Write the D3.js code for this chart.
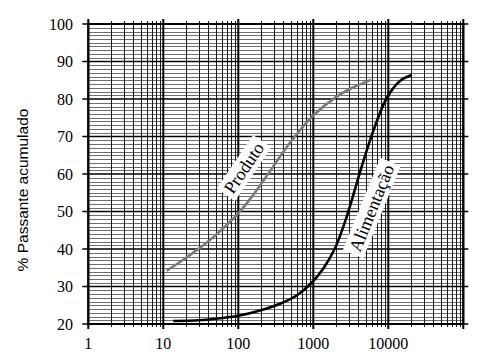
<!DOCTYPE html>
<html><head><meta charset="utf-8">
<script src="https://cdn.jsdelivr.net/npm/d3@7"></script>
<style>
html,body{margin:0;padding:0;background:#fff;}
svg{display:block;}
</style></head>
<body>
<svg id="chart" width="493" height="357"></svg>
<script>
// ---- data ----
const produtoSize = [11.1, 20, 31.6, 50, 100, 158, 240, 316, 500, 1000, 2000, 3160, 5880];
const produtoPass = [34.2, 37.6, 40.5, 43.7, 49.5, 54.4, 59.5, 63, 68.6, 75.6, 80.5, 82.8, 85.1];
const alimSize = [13.6, 30, 50, 100, 195, 360, 600, 953, 1360, 1945, 2790, 3790, 4420, 6310, 9500, 14300, 20500];
const alimPass = [20.8, 21, 21.4, 22.2, 23.6, 25.4, 27.6, 31, 34.8, 40.2, 48.6, 57.5, 62, 71.5, 80.2, 84.8, 86.4];
const xTickValues = [1, 10, 100, 1000, 10000];
const xTickLabels = ["1", "10", "100", "1000", "10000"];
const yTickValues = [20, 30, 40, 50, 60, 70, 80, 90, 100];
const seriesNames = ["Produto", "Alimentação"];
const labelAnchorSize = [119, 6010];
const labelAnchorPass = [61.6, 50.9];
const labelAngles = [-56, -68];
const yTitle = "% Passante acumulado";

// ---- layout ----
const svg = d3.select("#chart");
const L = 88.3, R = 463.3, T = 24, B = 324;
const x = d3.scaleLog().domain([1, 100000]).range([L, R]);
const y = d3.scaleLinear().domain([20, 100]).range([B, T]);
const crisp = v => Math.round(v) + 0.5;

const g = svg.append("g");

// minor horizontal grid (every 1 unit)
const yMinor = d3.range(21, 100).filter(v => v % 10 !== 0);
g.append("g").selectAll("line").data(yMinor).join("line")
  .attr("x1", L).attr("x2", R)
  .attr("y1", d => crisp(y(d))).attr("y2", d => crisp(y(d)))
  .attr("stroke", "#6e6e6e").attr("stroke-width", 1);

// minor vertical grid
const xMinor = [];
for (let e = 0; e < 5; e++) for (let k = 2; k <= 9; k++) xMinor.push(k * Math.pow(10, e));
g.append("g").selectAll("line").data(xMinor).join("line")
  .attr("x1", d => crisp(x(d))).attr("x2", d => crisp(x(d)))
  .attr("y1", T - 3).attr("y2", B + 3)
  .attr("stroke", "#1a1a1a").attr("stroke-width", 1);

// major horizontal
g.append("g").selectAll("line").data(yTickValues).join("line")
  .attr("x1", L - 6).attr("x2", R + 5)
  .attr("y1", d => y(d)).attr("y2", d => y(d))
  .attr("stroke", "#000").attr("stroke-width", 1.6);

// decade vertical
const xMajor = [1, 10, 100, 1000, 10000, 100000];
g.append("g").selectAll("line").data(xMajor).join("line")
  .attr("x1", d => x(d)).attr("x2", d => x(d))
  .attr("y1", T - 5).attr("y2", B + 5)
  .attr("stroke", "#000").attr("stroke-width", 2);

// frame
g.append("rect").attr("x", L).attr("y", T).attr("width", R - L).attr("height", B - T)
  .attr("fill", "none").attr("stroke", "#000").attr("stroke-width", 2);

// curves
const line = d3.line().x(d => x(d[0])).y(d => y(d[1])).curve(d3.curveCatmullRom.alpha(0.5));
const produto = produtoSize.map((s, i) => [s, produtoPass[i]]);
const alim = alimSize.map((s, i) => [s, alimPass[i]]);
g.append("path").datum(produto).attr("d", line)
  .attr("fill", "none").attr("stroke", "#7a7a7a").attr("stroke-width", 2.6);
g.append("path").datum(alim).attr("d", line)
  .attr("fill", "none").attr("stroke", "#000").attr("stroke-width", 2.6);

// curve labels with white boxes
const serif = "'Liberation Serif', 'Times New Roman', serif";
seriesNames.forEach((name, i) => {
  const cx = x(labelAnchorSize[i]), cy = y(labelAnchorPass[i]);
  const lg = g.append("g").attr("transform", `translate(${cx},${cy}) rotate(${labelAngles[i]})`);
  const rect = lg.append("rect").attr("fill", "#fff");
  const t = lg.append("text").text(name)
    .attr("font-family", serif)
    .attr("font-size", 18).attr("text-anchor", "middle").attr("dominant-baseline", "central")
    .attr("fill", "#000");
  const bb = t.node().getBBox();
  rect.attr("x", bb.x - 4).attr("y", bb.y - 1).attr("width", bb.width + 8).attr("height", bb.height + 2);
});

// tick labels
svg.append("g").selectAll("text").data(yTickValues).join("text")
  .attr("x", 73).attr("y", d => y(d)).attr("dy", "0.36em")
  .attr("text-anchor", "end").attr("font-family", serif).attr("font-size", 16)
  .text(d => d);
svg.append("g").selectAll("text").data(xTickValues).join("text")
  .attr("x", d => x(d)).attr("y", 349)
  .attr("text-anchor", "middle").attr("font-family", serif).attr("font-size", 16)
  .text((d, i) => xTickLabels[i]);

// y title
svg.append("text")
  .attr("transform", `translate(28,${(108 + 272) / 2}) rotate(-90)`)
  .attr("text-anchor", "middle")
  .attr("font-family", "'Liberation Sans', Arial, sans-serif").attr("font-size", 15.5)
  .text(yTitle);
</script>
</body></html>
